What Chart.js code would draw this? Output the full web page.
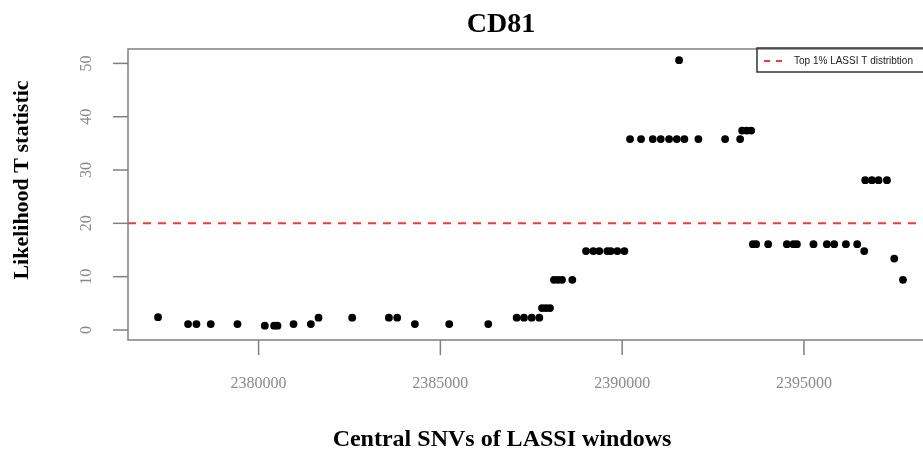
<!DOCTYPE html>
<html>
<head>
<meta charset="utf-8">
<script src="https://cdn.jsdelivr.net/npm/chart.js@4.4.1/dist/chart.umd.min.js"></script>
<style>
  html, body { margin: 0; padding: 0; background: #fff; overflow: hidden; }
  #wrap { width: 930px; height: 452px; }
</style>
</head>
<body>
<div id="wrap"><canvas id="myChart" width="930" height="452"></canvas></div>
<script>
// hodnoty
let snvPos = [
  2377234, 2378060, 2378291, 2378684, 2379419, 2380171, 2380427, 2380520, 2380961, 2381437,
  2381649, 2382574, 2383584, 2383812, 2384299, 2385244, 2386317, 2387099, 2387300, 2387512,
  2387721, 2387795, 2387905, 2388015, 2388125, 2388235, 2388345, 2388629, 2389006, 2389207,
  2389372, 2389592, 2389686, 2389868, 2390061, 2390217, 2390520, 2390842, 2391062, 2391291,
  2391503, 2391566, 2391712, 2392097, 2392832, 2393245, 2393300, 2393424, 2393548, 2393595,
  2393686, 2394016, 2394530, 2394712, 2394806, 2395263, 2395631, 2395832, 2396154, 2396466,
  2396658, 2396686, 2396870, 2397052, 2397283, 2397484, 2397724
];
let tStat = [
  2.4, 1.1, 1.1, 1.1, 1.1, 0.8, 0.8, 0.8, 1.1, 1.1,
  2.3, 2.3, 2.3, 2.3, 1.1, 1.1, 1.1, 2.3, 2.3, 2.3,
  2.3, 4.1, 4.1, 4.1, 9.4, 9.4, 9.4, 9.4, 14.8, 14.8,
  14.8, 14.8, 14.8, 14.8, 14.8, 35.8, 35.8, 35.8, 35.8, 35.8,
  35.8, 50.6, 35.8, 35.8, 35.8, 35.8, 37.4, 37.4, 37.4, 16.1,
  16.1, 16.1, 16.1, 16.1, 16.1, 16.1, 16.1, 16.1, 16.1, 16.1,
  14.8, 28.1, 28.1, 28.1, 28.1, 13.4, 9.4
];
let PRAH = 20;
let xTicks = [2380000, 2385000, 2390000, 2395000];
let yTicks = [0, 10, 20, 30, 40, 50];

let X_MIN = 2376408, X_MAX = 2398330;
let Y_MIN = -1.88, Y_MAX = 52.7;

// popisky, ramecek a legenda ve stylu R
let rStyl = {
  id: 'rStyl',
  afterDraw(chart) {
    let c = chart.ctx;
    let a = chart.chartArea;
    let sx = chart.scales.x, sy = chart.scales.y;
    c.save();
    // ramecek
    c.strokeStyle = '#808080';
    c.lineWidth = 1.5;
    c.strokeRect(a.left, a.top, a.right - a.left, a.bottom - a.top);
    // znacky a popisky osy y
    c.fillStyle = '#8a8a8a';
    c.font = '16px "Liberation Serif"';
    c.textAlign = 'center';
    c.textBaseline = 'middle';
    yTicks.forEach(v => {
      let y = sy.getPixelForValue(v);
      c.beginPath();
      c.moveTo(a.left - 15, y);
      c.lineTo(a.left, y);
      c.stroke();
      c.save();
      c.translate(87, y);
      c.rotate(-Math.PI / 2);
      c.fillText(String(v), 0, 0);
      c.restore();
    });
    // znacky a popisky osy x
    xTicks.forEach(v => {
      let x = sx.getPixelForValue(v);
      c.beginPath();
      c.moveTo(x, a.bottom);
      c.lineTo(x, a.bottom + 15);
      c.stroke();
      c.fillText(String(v), x, 384);
    });
    // nadpisy
    c.fillStyle = '#000';
    c.font = 'bold 28px "Liberation Serif"';
    c.fillText('CD81', 501, 25);
    c.font = 'bold 24px "Liberation Serif"';
    c.fillText('Central SNVs of LASSI windows', 502, 440);
    c.font = 'bold 22px "Liberation Serif"';
    c.save();
    c.translate(22, 180);
    c.rotate(-Math.PI / 2);
    c.fillText('Likelihood T statistic', 0, 0);
    c.restore();
    // legenda
    let ds = chart.data.datasets[1];
    c.strokeStyle = '#333';
    c.lineWidth = 1.5;
    c.strokeRect(757, 48, 180, 24);
    c.strokeStyle = ds.borderColor;
    c.lineWidth = 2;
    c.setLineDash([6, 6]);
    c.beginPath();
    c.moveTo(764, 61);
    c.lineTo(784, 61);
    c.stroke();
    c.setLineDash([]);
    c.fillStyle = '#222';
    c.font = '10px "Liberation Sans"';
    c.textAlign = 'left';
    c.fillText(ds.label, 794, 61);
    c.restore();
  }
};

let ctx = document.getElementById('myChart').getContext('2d');
let myChart = new Chart(ctx, {
  type: 'scatter',
  data: {
    datasets: [{
      label: 'T statistic',
      data: snvPos.map((x, i) => ({ x: x, y: tStat[i] })),
      backgroundColor: '#000',
      borderColor: '#000',
      pointRadius: 3.9,
      pointHoverRadius: 3.9,
      borderWidth: 0
    }, {
      type: 'line',
      label: 'Top 1% LASSI T distribtion',
      data: [{ x: X_MIN, y: PRAH }, { x: X_MAX, y: PRAH }],
      borderColor: '#f23a3a',
      borderWidth: 2,
      borderDash: [8, 7],
      pointRadius: 0,
      fill: false
    }]
  },
  options: {
    responsive: false,
    animation: false,
    layout: { padding: { left: 128, top: 49, right: 5, bottom: 112 } },
    plugins: {
      legend: { display: false },
      tooltip: { enabled: false }
    },
    scales: {
      x: { type: 'linear', display: false, min: X_MIN, max: X_MAX },
      y: { type: 'linear', display: false, min: Y_MIN, max: Y_MAX }
    }
  },
  plugins: [rStyl]
});
</script>
</body>
</html>
